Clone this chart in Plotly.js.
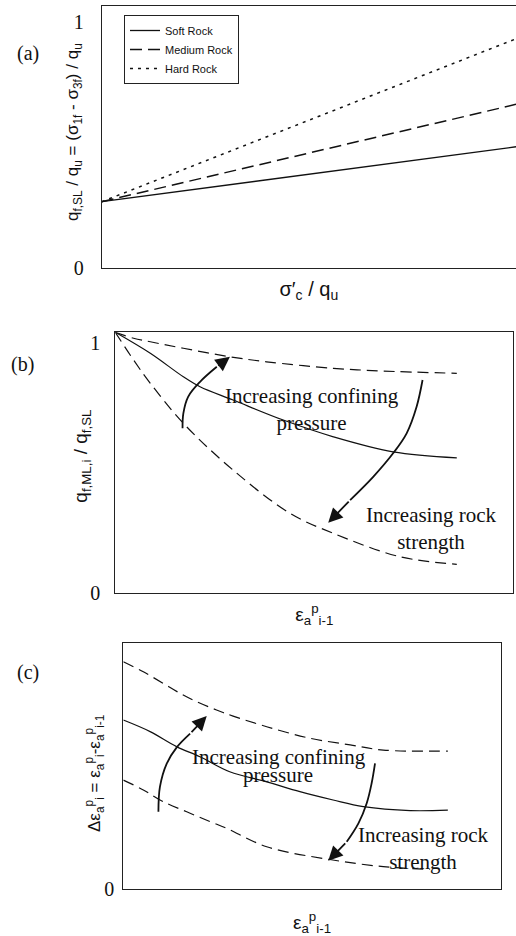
<!DOCTYPE html>
<html><head><meta charset="utf-8">
<script src="https://cdn.plot.ly/plotly-3.0.1.min.js"></script>
<style>html,body{margin:0;padding:0;background:#fff}#chart{width:516px;height:936px}</style>
</head><body><div id="chart"></div>
<script>
// ---- Panel (a): strength envelope vs confining ratio ----
const aX = [0, 1];
const aSoft = [0.27, 0.493];
const aMedium = [0.27, 0.665];
const aHard = [0.27, 0.931];
const aNames = ['Soft Rock', 'Medium Rock', 'Hard Rock'];

// ---- Panel (b): q_f,ML,i / q_f,SL vs plastic strain ----
const bUpperX = [0, 0.046, 0.088, 0.171, 0.288, 0.380, 0.548, 0.673, 0.858];
const bUpperY = [1.044, 1.02, 1.006, 0.98, 0.946, 0.926, 0.90, 0.889, 0.88];
const bMidX = [0, 0.088, 0.171, 0.213, 0.296, 0.422, 0.548, 0.698, 0.858];
const bMidY = [1.044, 0.96, 0.866, 0.826, 0.773, 0.693, 0.626, 0.566, 0.542];
const bLowX = [0, 0.046, 0.088, 0.171, 0.296, 0.439, 0.548, 0.716, 0.858];
const bLowY = [1.044, 0.933, 0.84, 0.68, 0.493, 0.32, 0.24, 0.146, 0.116];
const bArrowConfX = [0.169, 0.171, 0.183, 0.213, 0.255, 0.288];
const bArrowConfY = [0.66, 0.72, 0.786, 0.846, 0.906, 0.946];
const bArrowRockX = [0.772, 0.757, 0.732, 0.698, 0.648, 0.590, 0.535];
const bArrowRockY = [0.853, 0.746, 0.64, 0.56, 0.466, 0.373, 0.282];

// ---- Panel (c): plastic strain increment vs plastic strain ----
const cUpperX = [0, 0.053, 0.106, 0.150, 0.195, 0.247, 0.291, 0.380, 0.495, 0.601, 0.689, 0.860];
const cUpperY = [0.925, 0.884, 0.837, 0.797, 0.762, 0.729, 0.704, 0.661, 0.614, 0.587, 0.566, 0.562];
const cMidX = [0, 0.071, 0.141, 0.203, 0.282, 0.380, 0.468, 0.556, 0.636, 0.760, 0.860];
const cMidY = [0.688, 0.641, 0.580, 0.539, 0.478, 0.437, 0.397, 0.363, 0.336, 0.320, 0.322];
const cLowX = [0, 0.053, 0.106, 0.168, 0.230, 0.274, 0.380, 0.543, 0.689, 0.813];
const cLowY = [0.444, 0.404, 0.356, 0.315, 0.275, 0.248, 0.173, 0.122, 0.092, 0.081];
const cArrowConfX = [0.093, 0.097, 0.115, 0.142, 0.177, 0.221];
const cArrowConfY = [0.315, 0.416, 0.511, 0.578, 0.633, 0.704];
const cArrowRockX = [0.667, 0.658, 0.645, 0.623, 0.592, 0.543];
const cArrowRockY = [0.512, 0.431, 0.350, 0.268, 0.193, 0.116];

const yTicksA = [0, 1], yTickTextA = ['0', '1'];
const yTicksB = [0, 1], yTickTextB = ['0', '1'];
const yTicksC = [0], yTickTextC = ['0'];

const INK = '#111';
const SERIF = 'Liberation Serif, Times New Roman, serif';
const SANS = 'Liberation Sans, Arial, sans-serif';
const DASH = '11px,6px';

function curve(x, y, xa, ya, dash, w) {
  return {x: x, y: y, xaxis: xa, yaxis: ya, type: 'scatter', mode: 'lines', showlegend: false,
    hoverinfo: 'skip', line: {color: INK, width: w || 1.2, dash: dash || 'solid', shape: 'spline', smoothing: 1}};
}
function arrowBody(x, y, xa, ya) {
  return {x: x.slice(0, -1), y: y.slice(0, -1), xaxis: xa, yaxis: ya, type: 'scatter', mode: 'lines',
    showlegend: false, hoverinfo: 'skip', line: {color: INK, width: 1.8, shape: 'spline', smoothing: 1}};
}
function arrowHead(x, y, xr, yr) {
  const n = x.length;
  return {x: x[n-1], y: y[n-1], ax: x[n-2], ay: y[n-2], xref: xr, yref: yr, axref: xr, ayref: yr,
    text: '', showarrow: true, arrowhead: 2, arrowsize: 1.6, arrowwidth: 1.8, arrowcolor: INK};
}

const traces = [
  {x: aX, y: aSoft, name: aNames[0], type: 'scatter', mode: 'lines', xaxis: 'x', yaxis: 'y', hoverinfo: 'skip',
    line: {color: INK, width: 1.3}},
  {x: aX, y: aMedium, name: aNames[1], type: 'scatter', mode: 'lines', xaxis: 'x', yaxis: 'y', hoverinfo: 'skip',
    line: {color: INK, width: 1.5, dash: '12px,6px'}},
  {x: aX, y: aHard, name: aNames[2], type: 'scatter', mode: 'lines', xaxis: 'x', yaxis: 'y', hoverinfo: 'skip',
    line: {color: INK, width: 1.5, dash: '3px,5px'}},
  curve(bUpperX, bUpperY, 'x2', 'y2', DASH),
  curve(bMidX, bMidY, 'x2', 'y2'),
  curve(bLowX, bLowY, 'x2', 'y2', DASH),
  arrowBody(bArrowConfX, bArrowConfY, 'x2', 'y2'),
  arrowBody(bArrowRockX, bArrowRockY, 'x2', 'y2'),
  curve(cUpperX, cUpperY, 'x3', 'y3', DASH),
  curve(cMidX, cMidY, 'x3', 'y3'),
  curve(cLowX, cLowY, 'x3', 'y3', DASH),
  arrowBody(cArrowConfX, cArrowConfY, 'x3', 'y3'),
  arrowBody(cArrowRockX, cArrowRockY, 'x3', 'y3')
];

function xAx(domain, anchor, title, tsize, standoff, mirror) {
  return {domain: domain, anchor: anchor, range: [0, 1], showline: true, linecolor: '#222', linewidth: 1,
    mirror: mirror, showgrid: false, zeroline: false, ticks: '', showticklabels: false, automargin: false,
    fixedrange: true,
    title: {text: title, font: {family: SANS, size: tsize, color: INK}, standoff: standoff}};
}
function yAx(domain, anchor, range, tv, tt, mirror, lstand) {
  return {domain: domain, anchor: anchor, range: range, showline: true, linecolor: '#222', linewidth: 1,
    mirror: mirror, showgrid: false, zeroline: false, ticks: '', tickvals: tv, ticktext: tt,
    tickfont: {family: SERIF, size: 20, color: INK}, ticklabelstandoff: lstand, automargin: false, fixedrange: true};
}
function yTitle(text, cx, cy, size) {
  return {text: text, xref: 'paper', yref: 'paper', x: cx / 516, y: 1 - cy / 936, xanchor: 'center',
    yanchor: 'middle', textangle: -90, showarrow: false, font: {family: SANS, size: size, color: INK}};
}
function panelLabel(text, cx, cy) {
  return {text: text, xref: 'paper', yref: 'paper', x: cx / 516, y: 1 - cy / 936, xanchor: 'center',
    yanchor: 'middle', showarrow: false, font: {family: SERIF, size: 20, color: INK}};
}

const layout = {
  width: 516, height: 936, margin: {l: 0, r: 0, t: 0, b: 0},
  paper_bgcolor: '#fff', plot_bgcolor: '#fff',
  font: {family: SANS, color: INK},
  showlegend: true,
  legend: {x: 0.2403, y: 1 - 15 / 936, xanchor: 'left', yanchor: 'top', bgcolor: '#fff', bordercolor: '#222',
    borderwidth: 1, font: {family: SANS, size: 11, color: INK}, tracegroupgap: 0, itemwidth: 30},
  xaxis: xAx([0.1971, 1], 'y', 'σ′<sub>c</sub> / q<sub>u</sub>', 20, 13, true),
  yaxis: yAx([0.7134, 0.9941], 'x', [0, 1.066], yTicksA, yTickTextA, false, 13),
  xaxis2: xAx([0.2234, 0.9948], 'y2', 'ε<sub>a</sub><sup>p</sup><sub>i-1</sub>', 19, 14, true),
  yaxis2: yAx([0.3661, 0.6450], 'x2', [0, 1.044], yTicksB, yTickTextB, true, 10),
  xaxis3: xAx([0.2390, 0.9703], 'y3', 'ε<sub>a</sub><sup>p</sup><sub>i-1</sub>', 19, 26, true),
  yaxis3: yAx([0.0499, 0.3127], 'x3', [0, 1], yTicksC, yTickTextC, true, 4),
  annotations: [
    yTitle('q<sub>f,SL</sub> / q<sub>u</sub> = (σ<sub>1f</sub> - σ<sub>3f</sub>) / q<sub>u</sub>', 74, 132, 17),
    yTitle('q<sub>f,ML,i</sub> / q<sub>f,SL</sub>', 81.7, 456, 19),
    yTitle('Δε<sub>a</sub><sup>p</sup><sub>i</sub> = ε<sub>a</sub><sup>p</sup><sub>i</sub>-ε<sub>a</sub><sup>p</sup><sub>i-1</sub>', 94, 773, 17),
    panelLabel('(a)', 28.3, 53.3),
    panelLabel('(b)', 22.5, 365),
    panelLabel('(c)', 28.3, 672.7),
    {text: 'Increasing confining<br>pressure', xref: 'x2', yref: 'y2', x: 0.495, y: 0.736, showarrow: false,
      font: {family: SERIF, size: 21, color: INK}},
    {text: 'Increasing rock<br>strength', xref: 'x2', yref: 'y2', x: 0.795, y: 0.258, showarrow: false,
      font: {family: SERIF, size: 21, color: INK}},
    {text: 'Increasing confining', xref: 'x3', yref: 'y3', x: 0.412, y: 0.539, showarrow: false,
      font: {family: SERIF, size: 21, color: INK}},
    {text: 'pressure', xref: 'x3', yref: 'y3', x: 0.411, y: 0.463, showarrow: false,
      font: {family: SERIF, size: 21, color: INK}},
    {text: 'Increasing rock<br>strength', xref: 'x3', yref: 'y3', x: 0.795, y: 0.165, showarrow: false,
      font: {family: SERIF, size: 21, color: INK}},
    arrowHead(bArrowConfX, bArrowConfY, 'x2', 'y2'),
    arrowHead(bArrowRockX, bArrowRockY, 'x2', 'y2'),
    arrowHead(cArrowConfX, cArrowConfY, 'x3', 'y3'),
    arrowHead(cArrowRockX, cArrowRockY, 'x3', 'y3')
  ]
};

Plotly.newPlot('chart', traces, layout, {displayModeBar: false, staticPlot: true});
</script>
</body></html>
